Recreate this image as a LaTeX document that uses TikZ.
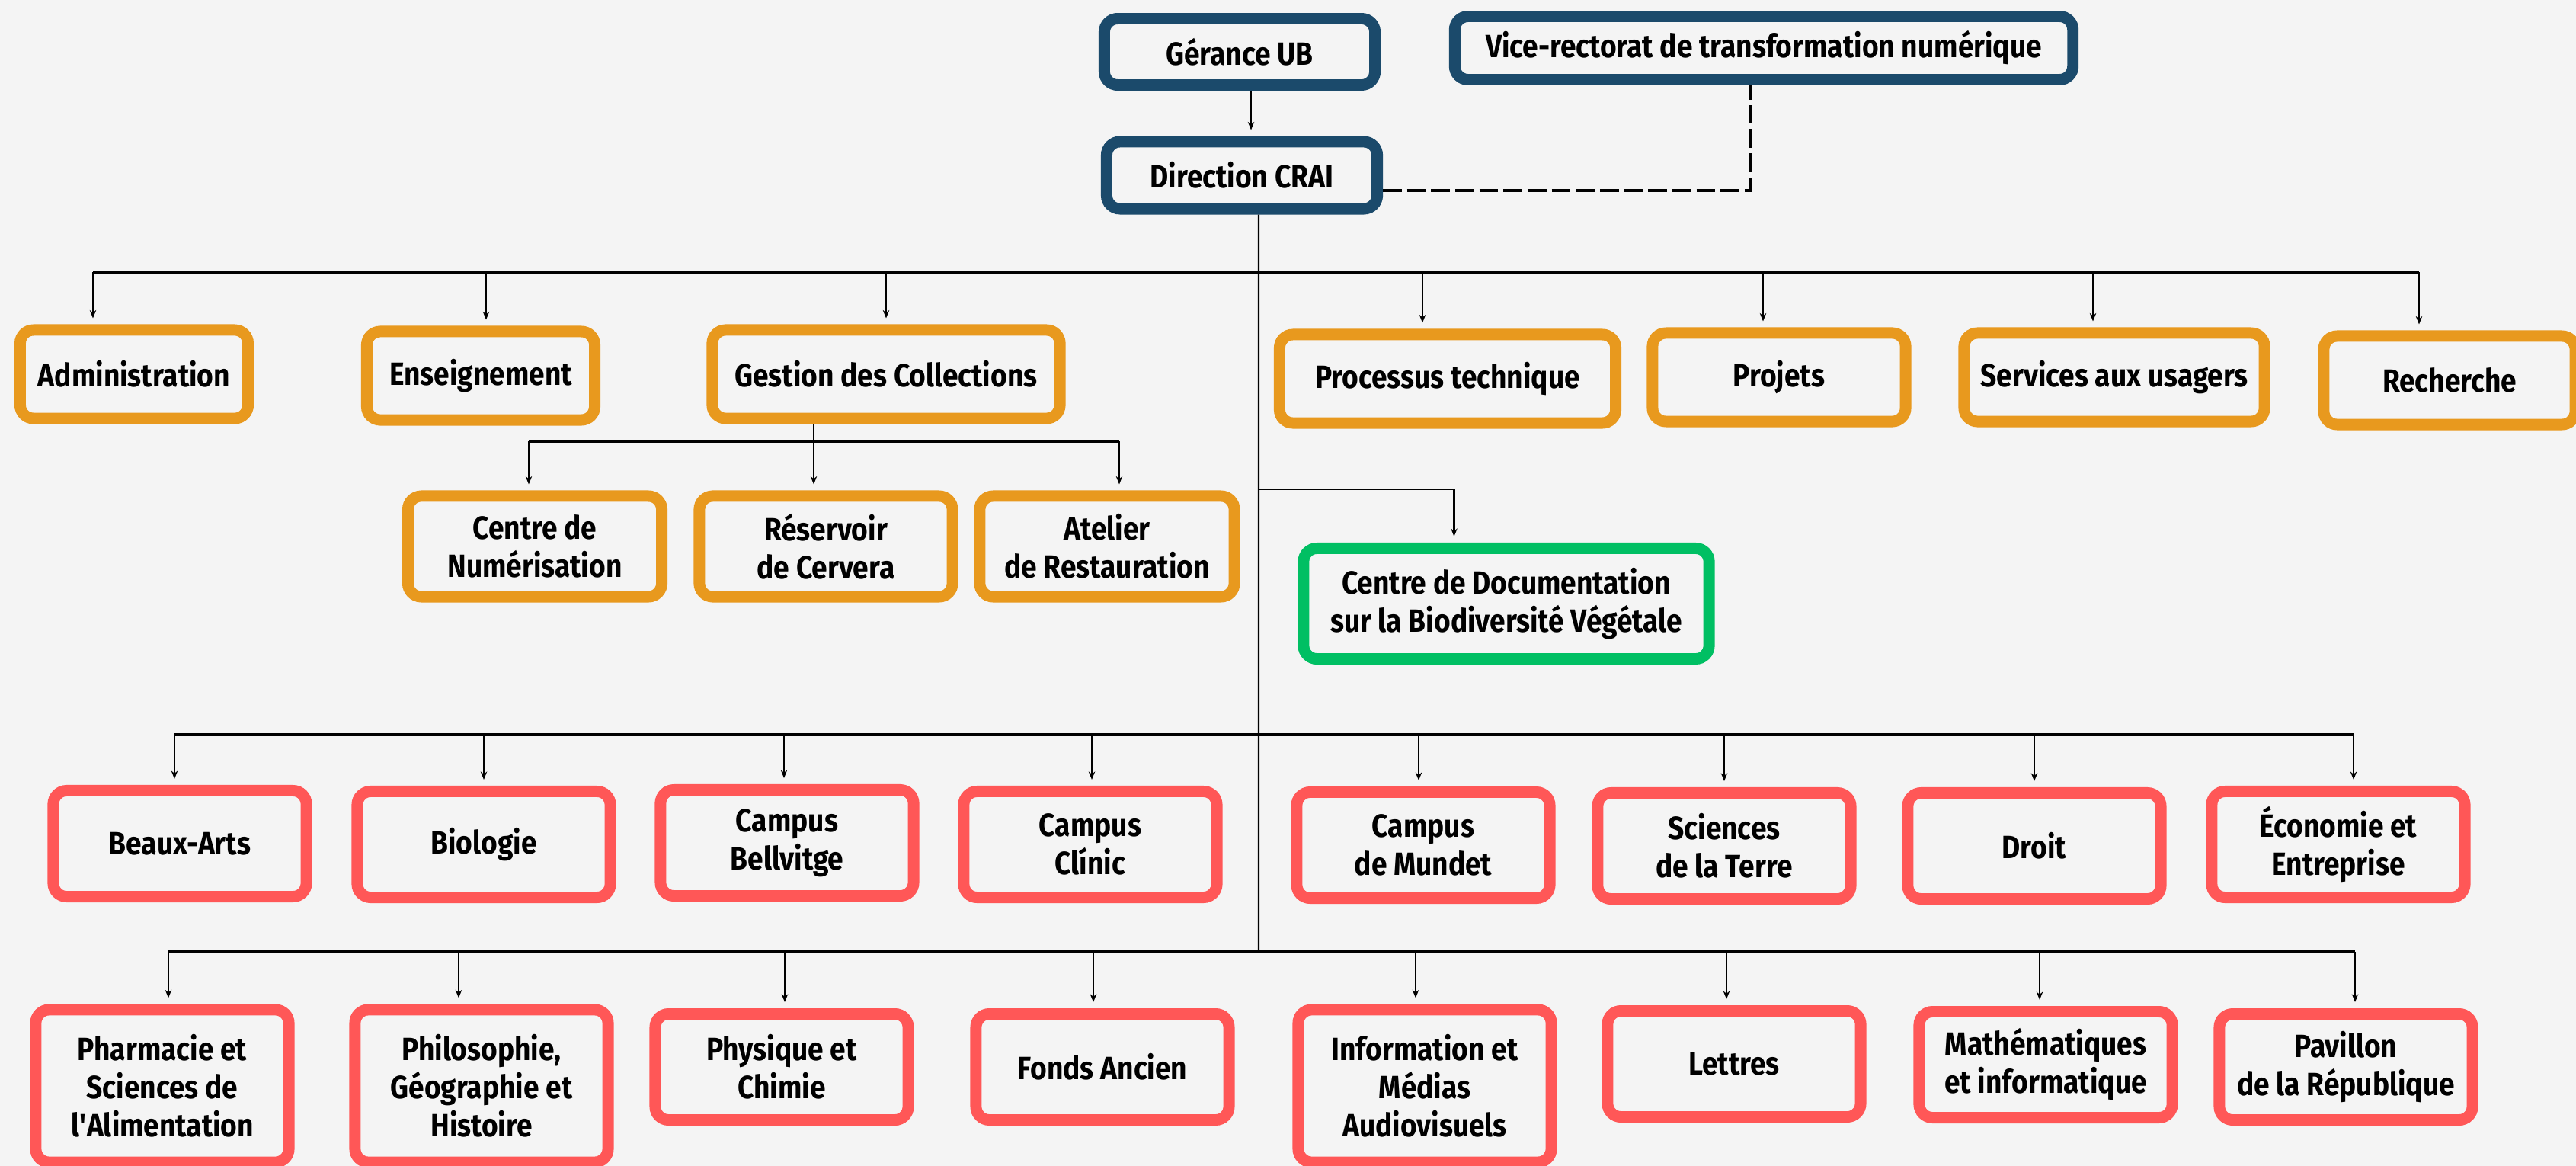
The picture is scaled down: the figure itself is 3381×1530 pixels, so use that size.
\documentclass[tikz,border=0pt]{standalone}
\usepackage{fontspec}
\newfontfamily\orgfont{Fira Sans}[FakeStretch=0.88]
\usetikzlibrary{arrows.meta}
\definecolor{bgcol}{HTML}{F4F4F4}
\definecolor{ubblue}{HTML}{1B4A6B}
\definecolor{craiorange}{HTML}{E8991E}
\definecolor{cdgreen}{HTML}{00BF63}
\definecolor{bibred}{HTML}{FF5757}
\begin{document}
\begin{tikzpicture}[>=stealth, x=0.01cm, y=-0.01cm,
  box/.style={draw, line width=4.25pt, rounded corners=5pt, fill=bgcol, align=center, inner sep=0pt,
    font=\orgfont\fontsize{12}{14.2}\selectfont\bfseries},
  ubbox/.style={box, draw=ubblue},
  craibox/.style={box, draw=craiorange},
  cdbvbox/.style={box, draw=cdgreen},
  bibbox/.style={box, draw=bibred, minimum width=3.32cm, minimum height=1.39cm},
  tallbox/.style={bibbox, minimum height=2.0cm},
  link/.style={line width=0.6pt},
  bus/.style={line width=0.9pt},
  arr/.style={link, -{Stealth[length=3pt,width=2.4pt]}, shorten >=0.08cm},
  dashlink/.style={line width=0.9pt, dash pattern=on 7pt off 2pt}]

\fill[bgcol] (0,0) rectangle (3381,1530);
\useasboundingbox (0,0) rectangle (3381,1530);

% direction
\node[ubbox, minimum width=3.55cm, minimum height=0.87cm] (gerance) at (1627,68) {Gérance UB};
\node[ubbox, minimum width=8.11cm, minimum height=0.83cm] (vicerect) at (2315,63) {Vice-rectorat de transformation numérique};
\node[ubbox, minimum width=3.55cm, minimum height=0.88cm] (direction) at (1630,230) {Direction CRAI};

% unites
\node[craibox, minimum width=2.99cm, minimum height=1.16cm] (admin) at (176,491) {Administration};
\node[craibox, minimum width=2.99cm, minimum height=1.16cm] (enseign) at (631,493) {Enseignement};
\node[craibox, minimum width=4.56cm, minimum height=1.16cm] (gestion) at (1163,491) {Gestion des Collections};
\node[craibox, minimum width=4.41cm, minimum height=1.16cm] (processus) at (1900,497) {Processus technique};
\node[craibox, minimum width=3.32cm, minimum height=1.16cm] (projets) at (2335,495) {Projets};
\node[craibox, minimum width=3.94cm, minimum height=1.16cm] (services) at (2775,495) {Services aux usagers};
\node[craibox, minimum width=3.30cm, minimum height=1.16cm] (recherche) at (3215,499) {Recherche};

\node[craibox, minimum width=3.33cm, minimum height=1.32cm] (numer) at (702,717) {Centre de\\Numérisation};
\node[craibox, minimum width=3.32cm, minimum height=1.32cm] (reserv) at (1084,717) {Réservoir\\de Cervera};
\node[craibox, minimum width=3.34cm, minimum height=1.32cm] (atelier) at (1453,717) {Atelier\\de Restauration};

\node[cdbvbox, minimum width=5.32cm, minimum height=1.45cm] (cdbv) at (1977,792) {Centre de Documentation\\sur la Biodiversité Végétale};

% bibliotheques
\node[bibbox] (beaux) at (236,1107) {Beaux-Arts};
\node[bibbox] (bio) at (635,1108) {Biologie};
\node[bibbox] (bellv) at (1033,1106) {Campus\\Bellvitge};
\node[bibbox] (clinic) at (1431,1108) {Campus\\Clínic};
\node[bibbox] (mundet) at (1868,1109) {Campus\\de Mundet};
\node[bibbox] (terre) at (2263,1110) {Sciences\\de la Terre};
\node[bibbox] (droit) at (2670,1110) {Droit};
\node[bibbox] (econ) at (3069,1108) {Économie et\\Entreprise};

\node[tallbox] (pharma) at (213,1425) {Pharmacie et\\Sciences de\\l\textquotesingle Alimentation};
\node[tallbox] (philo) at (632,1425) {Philosophie,\\Géographie et\\Histoire};
\node[bibbox] (physique) at (1026,1400) {Physique et\\Chimie};
\node[bibbox] (fonds) at (1447,1400) {Fonds Ancien};
\node[tallbox] (info) at (1870,1425) {Information et\\Médias\\Audiovisuels};
\node[bibbox] (lettres) at (2276,1396) {Lettres};
\node[bibbox] (maths) at (2685,1397) {Mathématiques\\et informatique};
\node[bibbox] (pavillon) at (3079,1400) {Pavillon\\de la République};

% liens
\draw[arr] ([xshift=0.15cm]gerance.south) -- ([xshift=0.15cm]gerance.south |- direction.north);
\draw[dashlink] ([yshift=-0.2cm]direction.east) -| ([xshift=-0.18cm]vicerect.south);

\coordinate (trunk) at (1652,1249);
\draw[link] ([xshift=0.22cm]direction.south) -- (trunk);

\coordinate (busA) at (1652,357);
\foreach \n/\dx in {admin/-0.54, enseign/0.07, gestion/0, processus/-0.33, projets/-0.21, services/-0.28, recherche/-0.40}
{
\coordinate (\n-in) at ([xshift=\dx cm]\n.north);
\draw[arr] (\n-in |- busA) -- (\n-in);
}
\draw[bus] (admin-in |- busA) -- (recherche-in |- busA);

\coordinate (busB) at (1068,579);
\foreach \n/\dx in {numer/-0.08, reserv/-0.16, atelier/0.16}
{
\coordinate (\n-in) at ([xshift=\dx cm]\n.north);
\draw[arr] (\n-in |- busB) -- (\n-in);
}
\draw[link] (reserv-in |- gestion.south) -- (reserv-in |- busB);
\draw[bus] (numer-in |- busB) -- (atelier-in |- busB);

\coordinate (busG) at (1652,642);
\coordinate (cdbv-in) at ([xshift=-0.685cm]cdbv.north);
\draw[arr] (busG) -| (cdbv-in);

\coordinate (busC) at (1652,964);
\foreach \n/\dx in {beaux/-0.07, bio/0, bellv/-0.04, clinic/0.02, mundet/-0.06, terre/0, droit/0, econ/0.20}
{
\coordinate (\n-in) at ([xshift=\dx cm]\n.north);
\draw[arr] (\n-in |- busC) -- (\n-in);
}
\draw[bus] (beaux-in |- busC) -- (econ-in |- busC);

\foreach \n/\dx in {pharma/0.08, philo/-0.30, physique/0.04, fonds/-0.12, info/-0.12, lettres/-0.10, maths/-0.08, pavillon/0.12}
{
\coordinate (\n-in) at ([xshift=\dx cm]\n.north);
\draw[arr] (\n-in |- trunk) -- (\n-in);
}
\draw[bus] (pharma-in |- trunk) -- (pavillon-in |- trunk);

\end{tikzpicture}
\end{document}
